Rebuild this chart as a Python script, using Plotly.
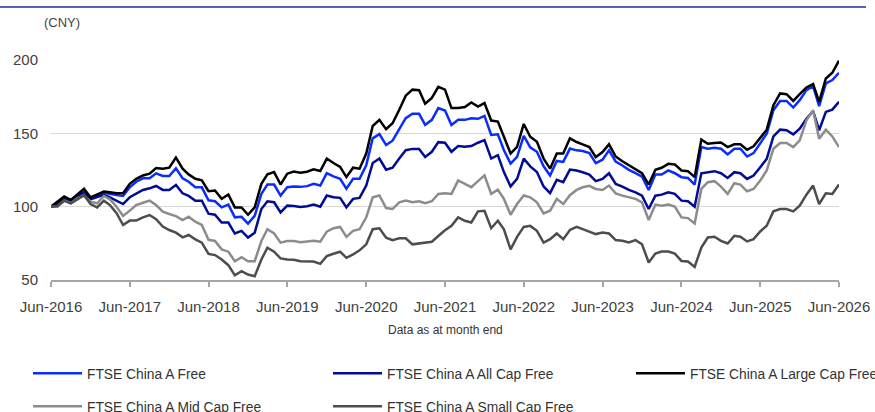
import pandas as pd
import plotly.graph_objects as go

months = pd.date_range("2016-06-01", periods=121, freq="MS")

free = [100, 102.3, 106, 104, 107, 110.2, 105.7, 107.3, 109.5, 108.6, 108, 107.3, 113.2, 117, 119.3, 119.3, 122.7, 120.9, 120.9, 126.1,
        119.3, 117, 113.2, 113.2, 104.3, 103.7, 99.5, 101.4, 92.7, 93.1, 88.5, 93.8, 108.7, 115.1, 115.1, 107.6, 113.3, 113.8, 113.5, 114,
        115.6, 114.4, 122.9, 120.6, 119, 112.2, 119, 119, 128.2, 146.6, 149.5, 142, 145, 152.8, 160.3, 163.3, 163.3, 155.7, 159.2, 167.2,
        165.6, 155.7, 159.2, 159.2, 160.3, 159.9, 161.9, 148.9, 149.3, 138.5, 129.4, 133.9, 148.2, 140.4, 137.4, 127.5, 121.3, 131.2, 130.5, 139.6,
        138.4, 137.9, 136.5, 129.7, 132, 138.4, 130.8, 128.1, 125.1, 122.8, 120.5, 111.4, 121.9, 121.9, 124.7, 122.8, 120.1, 119.6, 115.1, 140.6,
        139.5, 140.2, 139.5, 135.6, 139.5, 139.5, 134.2, 136.5, 142.9, 149.8, 165.8, 172.1, 172.1, 167.6, 172.6, 179.5, 182.2, 168.5, 184, 186.3,
        191.3]

all_cap = [100, 101.4, 106, 104.5, 107.3, 109.5, 105, 106.4, 108, 106.4, 104.1, 101.8, 106.4, 108.6, 111.4, 112.5, 114.1, 111.4, 111.4, 114.8,
           109.1, 107.3, 104.1, 104.1, 95.2, 94.5, 89.2, 89.2, 81.7, 83.5, 78.9, 82.3, 98.4, 103.7, 103, 96.1, 100.7, 100.5, 99.8, 100.3,
           101.4, 100, 107.6, 106.4, 106, 99.5, 105.3, 106, 114.4, 129.8, 132.8, 125.2, 126.6, 132.8, 138.5, 139.4, 139.4, 133.9, 137.4, 144,
           143.6, 137.4, 141.3, 140.8, 141.3, 143.6, 145.4, 132.8, 135.1, 123.6, 113.8, 119, 132.8, 127.5, 123.6, 113.8, 109.2, 118.3, 116.7, 125.3,
           124.7, 123.5, 121.9, 117.4, 118.9, 122.8, 115.5, 113.7, 111.4, 109.8, 107.5, 98.4, 107.5, 108.2, 109.8, 108.7, 104.1, 103.7, 100, 122.8,
           123.5, 124.2, 122.8, 119.6, 123.5, 122.8, 118.9, 121.2, 126.9, 132.6, 147.9, 152.5, 152.1, 149.3, 153.2, 160, 165.1, 152.1, 164.6, 166.2,
           171.5]

large_cap = [100, 103.4, 106.9, 104.6, 108.5, 112.2, 106.4, 108.3, 110.3, 109.9, 109.2, 109.2, 115.6, 119, 121.3, 122.5, 126.4, 125.9, 126.6, 133.5,
             125.9, 122, 119, 117.9, 110.6, 111, 105.3, 108.3, 99.5, 99.5, 94.5, 99.5, 115.6, 122, 123.6, 115.1, 122.5, 124, 123.2, 123.8,
             125.5, 124.3, 132.8, 129.8, 127.1, 120.2, 126.6, 125.9, 136.2, 155, 159.2, 152.8, 156.9, 166.1, 175.7, 179.8, 179.4, 170.2, 174.1, 181.7,
             179.8, 167.2, 167.2, 167.9, 171.1, 168.3, 170.6, 158.7, 158, 147.7, 136.2, 140.8, 156.4, 147.7, 144.3, 132.8, 125.9, 136.2, 136.2, 146.6,
             144.1, 142.5, 140.6, 133.8, 137.2, 142.5, 134.2, 131, 128.1, 125.6, 122.8, 115.1, 125.1, 126.5, 129.2, 128.8, 124.7, 124.2, 120.1, 145.7,
             142.9, 143.4, 143.8, 140.6, 142.5, 142.5, 138.8, 141.1, 147, 152.5, 169.2, 177.2, 176.7, 172.1, 176.7, 181.3, 183.6, 171.5, 187.4, 191.3,
             199.5]

mid_cap = [100, 100, 104.1, 102.3, 105.7, 107.3, 103.4, 102.3, 107.3, 105, 100, 93.6, 97.3, 101.1, 102.7, 104.1, 101.1, 96.6, 95, 93.6,
           90.9, 93.2, 89.8, 87.5, 77.4, 76.6, 70.9, 69.3, 62.8, 65.6, 62.8, 62.8, 76.6, 84.6, 81.7, 75.5, 76.6, 76.6, 75.8, 76.3,
           76.8, 76.1, 83, 85.3, 86.2, 79.4, 83.5, 84.6, 92.7, 106.4, 107.6, 99.1, 98.4, 103, 104.1, 103, 103.7, 102.3, 103.7, 108.7,
           109.2, 108.7, 117.9, 115.6, 113.3, 117.4, 121.3, 108.7, 111.5, 105.3, 94.5, 101.8, 107.6, 106.4, 103, 95.4, 97.2, 105.3, 101.8, 107.8,
           111.4, 113.2, 114.2, 112.1, 111.4, 114.4, 109.1, 107.5, 106.4, 105.3, 103, 90.9, 101.4, 100.7, 101.4, 100, 92.7, 92.2, 88.6, 112.1,
           116.7, 117.4, 113.7, 108.7, 116, 115.1, 110.5, 112.1, 117.8, 124.7, 139.5, 143.4, 143.4, 140.6, 145.2, 158.9, 165.8, 146.3, 152.5, 147.9,
           140.6]

small_cap = [100, 100.5, 104.1, 102.3, 105, 108, 101.8, 99.5, 104.1, 101.1, 95.5, 87.5, 90.5, 90.5, 92.7, 94.3, 91.4, 86.4, 84.1, 82.3,
             79.1, 80.7, 77.7, 75.5, 67.8, 67, 64, 60.1, 53.2, 56, 53.7, 52.5, 64, 72, 69.3, 64.7, 64, 63.8, 62.8, 62.8,
             62.6, 61, 66.3, 67.9, 69.3, 65.1, 67.4, 70.2, 74.3, 84.6, 85.3, 78.9, 77.1, 78.4, 78.4, 74.3, 74.8, 75.5, 76.1, 80,
             83.9, 86.9, 92.7, 90.4, 89.2, 96.8, 97.2, 85.3, 90.4, 84.6, 70.9, 79.4, 86.2, 86.9, 83.5, 75.5, 77.8, 81.7, 77.8, 84.1,
             86.3, 84.7, 82.9, 81.3, 82.4, 81.7, 77.2, 76.7, 75.6, 77.2, 74.4, 61.9, 68, 69.4, 69.4, 68, 63, 62.6, 58.9, 72.1,
             79, 79.5, 76.7, 74.9, 80.1, 79.5, 76.3, 77.9, 83.1, 87, 96.8, 98.4, 98.4, 96.8, 100.7, 108.2, 114.4, 101.8, 109.1, 108.7,
             115.1]

series = [
    ("FTSE China A Free", free, "#0a2cff", "legend", "g1"),
    ("FTSE China A All Cap Free", all_cap, "#000c96", "legend2", "g3"),
    ("FTSE China A Large Cap Free", large_cap, "#000000", "legend3", "g5"),
    ("FTSE China A Mid Cap Free", mid_cap, "#8c8c8c", "legend", "g2"),
    ("FTSE China A Small Cap Free", small_cap, "#4d4d4d", "legend2", "g4"),
]

FONT = "Liberation Sans, Arial, sans-serif"

fig = go.Figure()
for name, vals, color, leg, grp in series:
    fig.add_trace(go.Scatter(x=months, y=vals, name=name, mode="lines",
                             line=dict(color=color, width=2.5),
                             legend=leg, legendgroup=grp))

legend_common = dict(orientation="v", xanchor="left", yanchor="top", y=-0.354,
                     font=dict(family=FONT, size=13.8, color="#333333"),
                     bgcolor="rgba(0,0,0,0)", tracegroupgap=12, itemwidth=49)

fig.update_layout(
    width=875, height=412,
    margin=dict(l=51, r=36, t=60, b=132, autoexpand=False),
    paper_bgcolor="white", plot_bgcolor="white",
    font=dict(family=FONT, color="#404040"),
    showlegend=True,
    legend=dict(x=(28 - 51) / 788, **legend_common),
    legend2=dict(x=(328 - 51) / 788, **legend_common),
    legend3=dict(x=(631 - 51) / 788, **legend_common),
    xaxis=dict(
        range=["2016-06-01", "2026-06-01"],
        tick0="2016-06-01", dtick="M12", tickformat="%b-%Y",
        showgrid=False, showline=True, linecolor="#a6a6a6", linewidth=1.5,
        ticks="outside", ticklen=5, tickcolor="#a6a6a6", tickwidth=1.5,
        tickfont=dict(family=FONT, size=15, color="#404040"),
        ticklabelstandoff=7, zeroline=False,
    ),
    yaxis=dict(
        range=[50, 200], tickvals=[50, 100, 150, 200],
        showgrid=True, gridcolor="#d9d9d9", gridwidth=1,
        showline=False, zeroline=False, ticks="",
        tickfont=dict(family=FONT, size=15, color="#404040"),
        ticklabelstandoff=12,
    ),
    annotations=[
        dict(text="(CNY)", xref="paper", yref="paper", x=(42 - 51) / 788, y=(280 - 23) / 220,
             xanchor="left", yanchor="middle", showarrow=False,
             font=dict(family=FONT, size=13, color="#444444")),
        dict(text="Data as at month end", xref="paper", yref="paper", x=0.501, y=(280 - 330) / 220,
             xanchor="center", yanchor="middle", showarrow=False,
             font=dict(family=FONT, size=12, color="#333333")),
    ],
    shapes=[
        dict(type="line", xref="paper", yref="paper", x0=-51 / 788, x1=(866 - 51) / 788,
             y0=(280 - 7) / 220, y1=(280 - 7) / 220, line=dict(color="#1a2ea6", width=1.5)),
    ],
)

fig.write_html("out.html", config={"displayModeBar": False},
               post_script="document.body.style.margin='0';document.body.style.overflow='hidden';")
